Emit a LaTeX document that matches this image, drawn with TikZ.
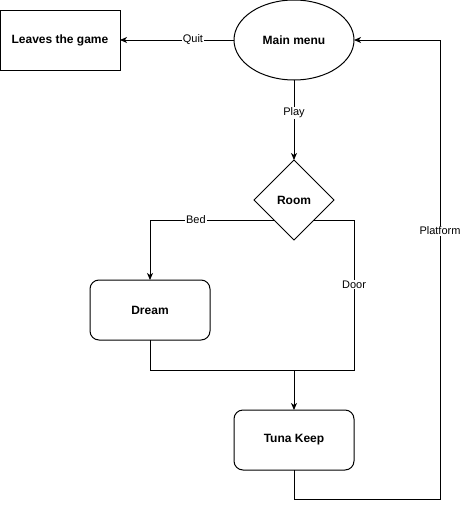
\documentclass[tikz,border=0pt]{standalone}
\usepackage{fontspec}
\setmainfont{Liberation Sans}
\usetikzlibrary{shapes.geometric,arrows.meta,calc}
\begin{document}
\begin{tikzpicture}[x=1pt,y=-1pt,
  every node/.style={outer sep=0pt},
  boxnode/.style={draw,line width=1pt,minimum width=120pt,minimum height=60pt,inner sep=0pt,font=\fontsize{12}{14}\selectfont\bfseries},
  roundnode/.style={boxnode,rounded corners=9pt},
  lbl/.style={fill=white,inner sep=1pt,font=\fontsize{11}{13}\selectfont},
  conn/.style={line width=1pt,-{Stealth[length=7pt,width=6pt,inset=2pt]}},
  plain/.style={line width=1pt}]
\useasboundingbox (0,0) rectangle (462,509);
\node[boxnode] (leave) at (60,40) {Leaves the game};
\node[draw,line width=1pt,ellipse,minimum width=120pt,minimum height=80pt,inner sep=0pt,font=\fontsize{12}{14}\selectfont\bfseries] (menu) at (294,40) {Main menu};
\node[draw,line width=1pt,diamond,minimum width=80pt,minimum height=80pt,inner sep=0pt,aspect=1,font=\fontsize{12}{14}\selectfont\bfseries] (room) at (294,200) {Room};
\node[roundnode] (dream) at (150,310) {Dream};
\node[roundnode] (tuna) at (294,440) {Tuna Keep};
\coordinate (merge) at (294,370);
\coordinate (bl) at (150,220);
\coordinate (br) at (354,220);
\coordinate (dl) at (150,370);
\coordinate (dr) at (354,370);
\coordinate (pb) at (294,499);
\coordinate (pbr) at (440,499);
\coordinate (ptr) at (440,40);

\draw[conn] (menu.west) -- node[lbl,pos=0.36] (quit) {Quit} (leave.east);
\draw[conn] (menu.south) -- node[lbl,pos=0.41] (play) {Play} (room.north);
\draw[conn] (room.south west) -- node[lbl,pos=0.63] (bed) {Bed} (bl) -- (dream.north);
\draw[plain] (room.south east) -- (br) -- node[lbl,pos=0.43] (door) {Door} (dr) -- (merge);
\draw[plain] (dream.south) -- (dl) -- (merge);
\draw[conn] (merge) -- (tuna.north);
\draw[conn] (tuna.south) -- (pb) -- (pbr) -- node[lbl,pos=0.584] (plat) {Platform} (ptr) -- (menu.east);
\end{tikzpicture}
\end{document}
